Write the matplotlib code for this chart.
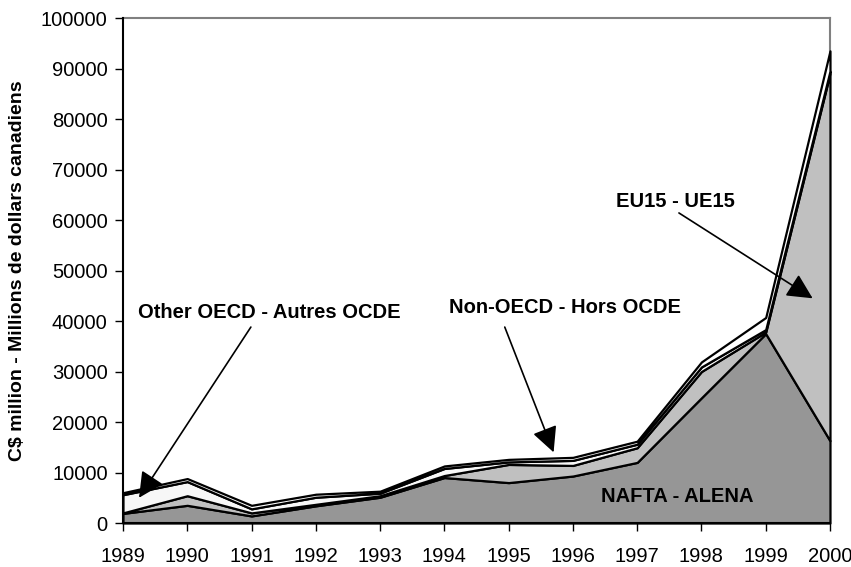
import matplotlib
matplotlib.use("Agg")
import matplotlib.pyplot as plt

plt.rcParams["font.family"] = ["Liberation Sans", "DejaVu Sans"]

years = list(range(1989, 2001))
# C$ million (stacked layers, bottom to top)
nafta = [1900, 3500, 1400, 3400, 5100, 9000, 8000, 9300, 12000, 24800, 37500, 16300]
eu15 = [100, 1900, 600, 300, 300, 400, 3600, 2100, 2900, 5200, 300, 72700]
other_oecd = [3600, 2800, 800, 1400, 500, 1400, 500, 1000, 700, 900, 500, 500]
non_oecd = [400, 600, 700, 600, 400, 500, 500, 600, 600, 1000, 2400, 4000]

colors = ["#969696", "#c0c0c0", "#f7f7f7", "#ffffff"]

# label text, text centre, arrow start, arrow tip (data units)
labels = ["EU15 - UE15", "Other OECD - Autres OCDE", "Non-OECD - Hors OCDE"]
label_pos = [(1997.6, 63600), (1991.27, 41600), (1995.87, 42600)]
arrow_from = [(1997.65, 61400), (1990.99, 38800), (1994.94, 38800)]
arrow_to = [(1999.73, 44500), (1989.25, 5000), (1995.7, 14000)]

fig = plt.figure(figsize=(8.51, 5.67), dpi=100)
ax = fig.add_axes([0.1445, 0.0776, 0.8308, 0.8906])

polys = ax.stackplot(years, nafta, eu15, other_oecd, non_oecd,
                     colors=colors, edgecolor="black", linewidth=1.6)
for p in polys:
    p.set_clip_on(False)

ax.set_xlim(1989, 2000)
ax.set_ylim(0, 100000)
ax.set_xticks(years)
ax.set_yticks(range(0, 100001, 10000))
ax.tick_params(axis="both", direction="out", length=6, width=1, color="black",
               labelsize=14.5)
ax.tick_params(axis="x", pad=11)
ax.tick_params(axis="y", pad=5)

for side in ["top", "right"]:
    ax.spines[side].set_color("#808080")
    ax.spines[side].set_linewidth(1.5)
    ax.spines[side].set_zorder(0.5)
for side in ["left", "bottom"]:
    ax.spines[side].set_color("black")
    ax.spines[side].set_linewidth(1.5)

ax.set_ylabel("C$ million - Millions de dollars canadiens", fontsize=14,
              fontweight="bold", labelpad=11)

for txt, pos, a, b in zip(labels, label_pos, arrow_from, arrow_to):
    ax.text(pos[0], pos[1], txt, ha="center", va="center",
            fontsize=14.5, fontweight="bold")
    ax.annotate("", xy=b, xytext=a,
                arrowprops=dict(arrowstyle="-|>,head_length=0.6,head_width=0.3",
                                color="black", lw=1.2, mutation_scale=26,
                                shrinkA=0, shrinkB=0))

ax.text(1997.62, 5200, "NAFTA - ALENA", ha="center", va="center",
        fontsize=14.5, fontweight="bold")

fig.savefig("out.png", dpi=100)
